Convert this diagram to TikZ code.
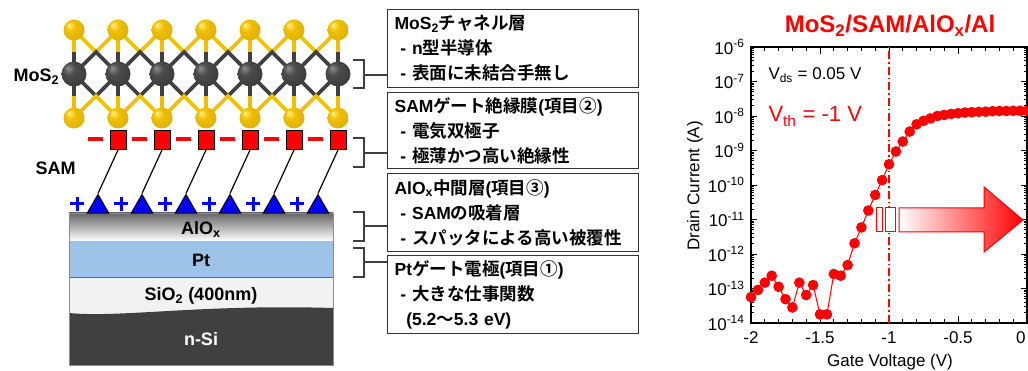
\documentclass[tikz,border=0pt]{standalone}
\usepackage{fontspec}
\setmainfont{Liberation Sans}
\newfontfamily\jp{Noto Sans CJK JP}[BoldFont={Noto Sans CJK JP Bold}]
\usepackage{tikz}
\usetikzlibrary{arrows,shapes,positioning,calc}

\definecolor{sulfur}{RGB}{242,192,0}
\definecolor{sulfhi}{RGB}{255,240,140}
\definecolor{bondgray}{RGB}{64,64,64}
\definecolor{ptblue}{RGB}{157,195,230}
\definecolor{ptedge}{RGB}{70,110,150}
\definecolor{sioxgray}{RGB}{242,242,242}
\definecolor{nsigray}{RGB}{64,64,64}

% glossy atoms
\pgfdeclareradialshading{sball}{\pgfpoint{-12bp}{12bp}}{color(0bp)=(sulfhi); color(12bp)=(sulfur); color(40bp)=(sulfur!88!black); color(56bp)=(sulfur!60!black)}
\pgfdeclareradialshading{mball}{\pgfpoint{-12bp}{12bp}}{color(0bp)=(black!45); color(12bp)=(black!70); color(40bp)=(black!80); color(56bp)=(black!92)}

\newcommand{\jtext}[1]{{\jp #1}}

\tikzset{
  sbond/.style={draw=sulfur, line width=3.6pt},
  mbond/.style={draw=bondgray, line width=3.6pt},
  headsq/.style={draw=black, fill=red, line width=1pt, minimum width=16pt, minimum height=19pt, inner sep=0pt},
  tailtri/.style={regular polygon, regular polygon sides=3, draw=black, fill=blue, line width=1pt, minimum size=25pt, inner sep=0pt},
  lbl/.style={font=\fontsize{18}{20}\selectfont\bfseries},
  infobox/.style={draw=black!80, line width=1.2pt, anchor=north west, minimum width=251pt, minimum height=78pt, text width=237pt, align=left, font=\fontsize{17.5}{25}\selectfont\bfseries},
  bracket/.style={draw=black!75, line width=1.3pt},
  axtick/.style={line width=0.9pt},
  plotlbl/.style={font=\fontsize{17}{20}\selectfont}
}

\begin{document}
\begin{tikzpicture}[x=1pt,y=-1pt]
  \useasboundingbox (0,0) rectangle (1028,371);

  % MoS2 layer: bonds first, atoms on top
  \foreach \x in {74,118,...,294} {
    \draw[sbond] (\x,30) -- (\x+22,52) -- (\x+44,30);
    \draw[mbond] (\x,74) -- (\x+22,52) -- (\x+44,74);
    \draw[mbond] (\x,74) -- (\x+22,96) -- (\x+44,74);
    \draw[sbond] (\x,118) -- (\x+22,96) -- (\x+44,118);
  }
  \foreach \x in {74,118,...,338} {
    \draw[sbond] (\x,30) -- (\x,52);
    \draw[mbond] (\x,52) -- (\x,96);
    \draw[sbond] (\x,96) -- (\x,118);
  }
  \foreach \x in {74,118,...,338} {
    \shade[shading=sball] (\x,30) circle (10.5pt);
    \shade[shading=sball] (\x,118) circle (10.5pt);
    \shade[shading=mball] (\x,74) circle (12.5pt);
  }

  % substrate stack
  \fill[sioxgray] (69,278) rectangle (333,365);
  \fill[nsigray] (69,313) .. controls (120,318) and (200,304) .. (333,308) -- (333,365) -- (69,365) -- cycle;
  \fill[ptblue] (69,241) rectangle (333,278);
  \draw[ptedge, line width=1pt] (69,241) rectangle (333,278);
  \shade[top color=black!60, middle color=black!12, bottom color=white] (69,213) rectangle (333,241);
  \draw[black!45, line width=0.8pt] (69,213) rectangle (333,365);

  \node[lbl, anchor=base] (aloxlbl) at (201,235) {AlO\textsubscript{x}};
  \node[lbl, anchor=base] (ptlbl) at (201,267) {Pt};
  \node[lbl, anchor=base] (sioxlbl) at (201,301) {SiO\textsubscript{2} (400nm)};
  \node[lbl, anchor=base, text=white] (nsilbl) at (201,345) {n-Si};

  % SAM molecules
  \foreach \x [count=\i] in {118,162,...,338} {
    \draw[red, line width=3.6pt] (\x-30,139) -- (\x-15,139);
    \node[headsq] (sq\i) at (\x,140) {};
    \node[tailtri] (tri\i) at (\x-20,207) {};
    \draw[line width=1.2pt] (sq\i.south) -- (tri\i.corner 1);
    \draw[blue, line width=3pt] (\x-48,204) -- (\x-34,204) (\x-41,197) -- (\x-41,211);
  }

  \node[lbl, anchor=base west] (moslbl) at (10,82) {MoS\textsubscript{2}};
  \node[lbl, anchor=base west] (samlbl) at (32,175) {SAM};

  % description boxes
  \node[infobox] (mosbox) at (387,9) {MoS\textsubscript{2}\jtext{チャネル層}\\ \ - n\jtext{型半導体}\\ \ - \jtext{表面に未結合手無し}};
  \node[infobox, minimum height=76pt] (sambox) at (387,92) {SAM\jtext{ゲート絶縁膜}(\jtext{項目②})\\ \ - \jtext{電気双極子}\\ \ - \jtext{極薄かつ高い絶縁性}};
  \node[infobox] (aloxbox) at (387,173) {AlO\textsubscript{x}\jtext{中間層}(\jtext{項目③})\\ \ - SAM\jtext{の吸着層}\\ \ - \jtext{スパッタによる高い被覆性}};
  \node[infobox] (ptbox) at (387,255) {Pt\jtext{ゲート電極}(\jtext{項目①})\\ \ - \jtext{大きな仕事関数}\\ \ \ (5.2\jtext{〜}5.3 eV)};

  % brackets
  \draw[bracket] (353,60) -- (364,60) -- (364,88) -- (353,88);
  \draw[bracket] (353,138) -- (364,138) -- (364,167) -- (353,167);
  \draw[bracket] (353,212) -- (364,212) -- (364,241) -- (353,241);
  \draw[bracket] (353,248) -- (364,248) -- (364,277) -- (353,277);
  \coordinate (mosbr) at (364,75);
  \coordinate (sambr) at (364,153);
  \coordinate (aloxbr) at (364,226);
  \coordinate (ptbr) at (364,262);
  \draw[bracket] (mosbr) -- (mosbr -| mosbox.west);
  \draw[bracket] (sambr) -- (sambr -| sambox.west);
  \draw[bracket] (aloxbr) -- (aloxbr -| aloxbox.west);
  \draw[bracket] (ptbr) -- (ptbr -| ptbox.west);

  % transfer curve
  \begin{scope}[shift={(1027,323)}, x=138pt, y=34.5pt]
    \foreach \d in {0,...,7} {
      \foreach \m in {0.301,0.477,0.602,0.699,0.778,0.845,0.903,0.954} {
        \draw[axtick] (-2,\d+\m) -- ++(3pt,0);
        \draw[axtick] (0,\d+\m) -- ++(-3pt,0);
      }
    }
    \foreach \d in {0,...,8} {
      \draw[axtick] (-2,\d) -- ++(6pt,0);
      \draw[axtick] (0,\d) -- ++(-6pt,0);
    }
    \foreach \k in {1,...,19} {
      \draw[axtick] ({-2+\k/10},0) -- ++(0,4pt);
      \draw[axtick] ({-2+\k/10},8) -- ++(0,-4pt);
    }
    \foreach \k in {5,10,15} {
      \draw[axtick] ({-2+\k/10},0) -- ++(0,7pt);
      \draw[axtick] ({-2+\k/10},8) -- ++(0,-7pt);
    }
    \draw[line width=1.6pt] (-2,0) rectangle (0,8);

    \foreach \d/\e in {0/-14,1/-13,2/-12,3/-11,4/-10,5/-9,6/-8,7/-7,8/-6}
      \node[plotlbl, anchor=east, xshift=-3pt] (ytick\d) at (-2,\d) {10\textsuperscript{\e}};
    \foreach \v [count=\i] in {-2,-1.5,-1,-0.5}
      \node[plotlbl, anchor=north, yshift=-5pt] (xtick\i) at (\v,0) {\v};
    \node[plotlbl, anchor=north east, yshift=-5pt, xshift=2pt] (xtick5) at (0,0) {0};

    \draw[red, line width=1.2pt, dash pattern=on 8pt off 3pt on 1.5pt off 3pt] (-1,0) -- (-1,8);
    \draw[red, line width=1pt, mark=*, mark size=4.8pt] plot coordinates {
      (-2,0.75) (-1.95,0.96) (-1.9,1.17) (-1.85,1.37) (-1.8,1.05) (-1.75,0.69)
      (-1.7,0.45) (-1.65,1.17) (-1.6,0.81) (-1.55,1.10) (-1.5,0.25) (-1.45,0.25)
      (-1.4,1.42) (-1.35,1.37) (-1.3,1.68) (-1.25,2.31) (-1.2,2.77) (-1.15,3.26)
      (-1.1,3.71) (-1.05,4.14) (-1,4.60) (-0.95,4.97) (-0.9,5.26) (-0.85,5.55)
      (-0.8,5.76) (-0.75,5.86) (-0.7,5.93) (-0.65,6.00) (-0.6,6.03) (-0.55,6.06)
      (-0.5,6.08) (-0.45,6.10) (-0.4,6.11) (-0.35,6.12) (-0.3,6.125) (-0.25,6.14)
      (-0.2,6.145) (-0.15,6.145) (-0.1,6.15) (-0.05,6.15) (0,6.15)};
  \end{scope}

  \node[anchor=base, text=red, font=\fontsize{24}{28}\selectfont\bfseries] (title) at (890,33) {MoS\textsubscript{2}/SAM/AlO\textsubscript{x}/Al};
  \node[plotlbl, anchor=base west] (vdslbl) at (765,80) {V\textsubscript{ds} = 0.05 V};
  \node[anchor=base west, text=red, font=\fontsize{22}{24}\selectfont] (vthlbl) at (765,122) {V\textsubscript{th} = -1 V};
  \node[plotlbl, anchor=base] (xlbl) at (890,366) {Gate Voltage (V)};
  \node[plotlbl, rotate=90] (ylbl) at (695,186) {Drain Current (A)};

  % shift arrow
  \shadedraw[draw=red, line width=1pt, left color=white, right color=red] (899,208) -- (984,208) -- (984,187) -- (1023,220) -- (984,252) -- (984,232) -- (899,232) -- cycle;
  \draw[red, fill=white, line width=1pt] (876,208) rectangle (882,232);
  \draw[red, fill=white, line width=1pt] (885,208) rectangle (895,232);
\end{tikzpicture}
\end{document}
